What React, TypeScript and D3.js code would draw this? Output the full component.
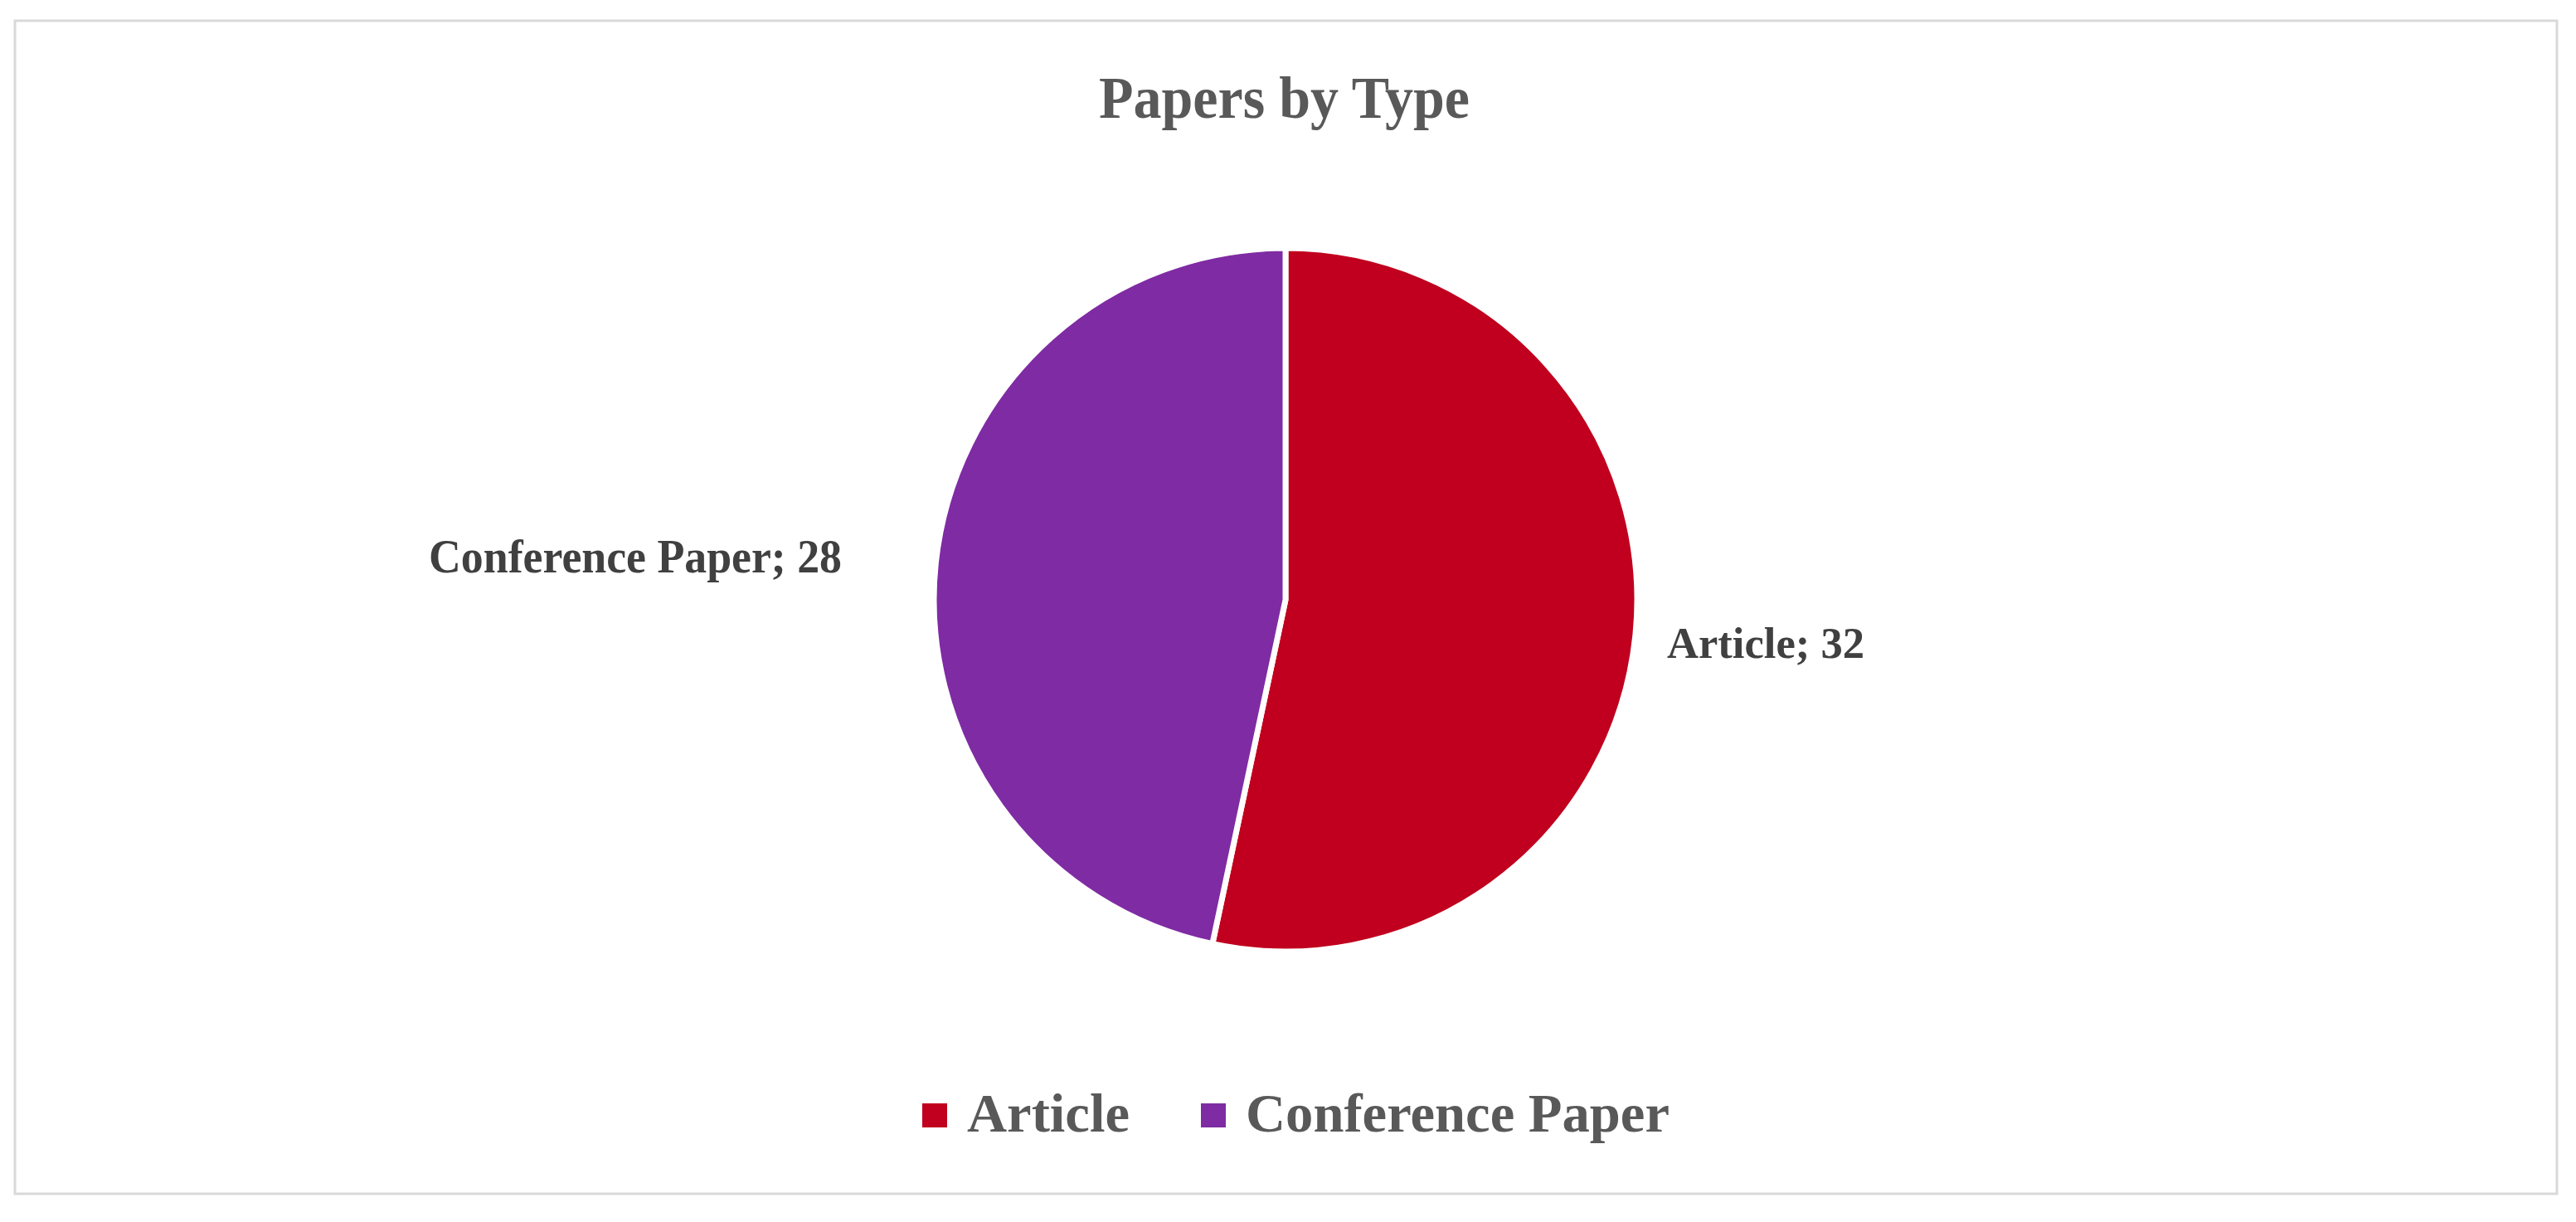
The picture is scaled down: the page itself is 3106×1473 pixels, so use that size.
import React, { useEffect, useRef } from "react";
import * as d3 from "d3";

const categories = ["Article", "Conference Paper"];
const values = [32, 28];
const colors = ["#C0001E", "#7F2BA3"];
const title = "Papers by Type";

const W = 3106;
const H = 1473;

export default function App() {
  const ref = useRef<SVGSVGElement>(null);

  useEffect(() => {
    const svg = d3.select(ref.current);
    svg.selectAll("*").remove();

    svg.append("rect").attr("x", 0).attr("y", 0).attr("width", W).attr("height", H).attr("fill", "#ffffff");
    svg.append("rect")
      .attr("x", 18).attr("y", 25).attr("width", 3065).attr("height", 1414)
      .attr("fill", "#ffffff").attr("stroke", "#d9d9d9").attr("stroke-width", 3);

    const font = "'Liberation Serif', 'DejaVu Serif', serif";

    svg.append("text")
      .attr("x", 1325).attr("y", 142)
      .attr("font-family", font).attr("font-weight", "bold")
      .attr("font-size", 72).attr("fill", "#595959")
      .attr("textLength", 447).attr("lengthAdjust", "spacingAndGlyphs")
      .text(title);

    const cx = 1550, cy = 723, r = 424;
    const data = categories.map((c, i) => ({ c, v: values[i], col: colors[i] }));
    const pie = d3.pie<any>().value((d: any) => d.v).sort(null);
    const arcs = pie(data);
    const arc = d3.arc<any>().innerRadius(0).outerRadius(r);
    const g = svg.append("g").attr("transform", `translate(${cx},${cy})`);
    g.selectAll("path").data(arcs).enter().append("path")
      .attr("d", arc as any)
      .attr("fill", (d: any) => d.data.col)
      .attr("stroke", "#ffffff").attr("stroke-width", 7).attr("stroke-linejoin", "round");

    const labels = [
      { x: 2010, y: 793, w: 238, fs: 53 },
      { x: 517, y: 690, w: 498, fs: 56 },
    ];
    arcs.forEach((a: any, i: number) => {
      svg.append("text")
        .attr("x", labels[i].x).attr("y", labels[i].y)
        .attr("font-family", font).attr("font-weight", "bold")
        .attr("font-size", labels[i].fs).attr("fill", "#404040")
        .attr("textLength", labels[i].w).attr("lengthAdjust", "spacingAndGlyphs")
        .text(`${a.data.c}; ${a.data.v}`);
    });

    const legend = [
      { sx: 1112, tx: 1166, tw: 196 },
      { sx: 1448, tx: 1502, tw: 511 },
    ];
    data.forEach((d, i) => {
      svg.append("rect")
        .attr("x", legend[i].sx).attr("y", 1330).attr("width", 30).attr("height", 29)
        .attr("fill", d.col);
      svg.append("text")
        .attr("x", legend[i].tx).attr("y", 1364)
        .attr("font-family", font).attr("font-weight", "bold")
        .attr("font-size", 66).attr("fill", "#595959")
        .attr("textLength", legend[i].tw).attr("lengthAdjust", "spacingAndGlyphs")
        .text(d.c);
    });
  }, []);

  return (
    <svg
      ref={ref}
      width={W}
      height={H}
      style={{ position: "absolute", left: 0, top: 0, display: "block" }}
    />
  );
}
